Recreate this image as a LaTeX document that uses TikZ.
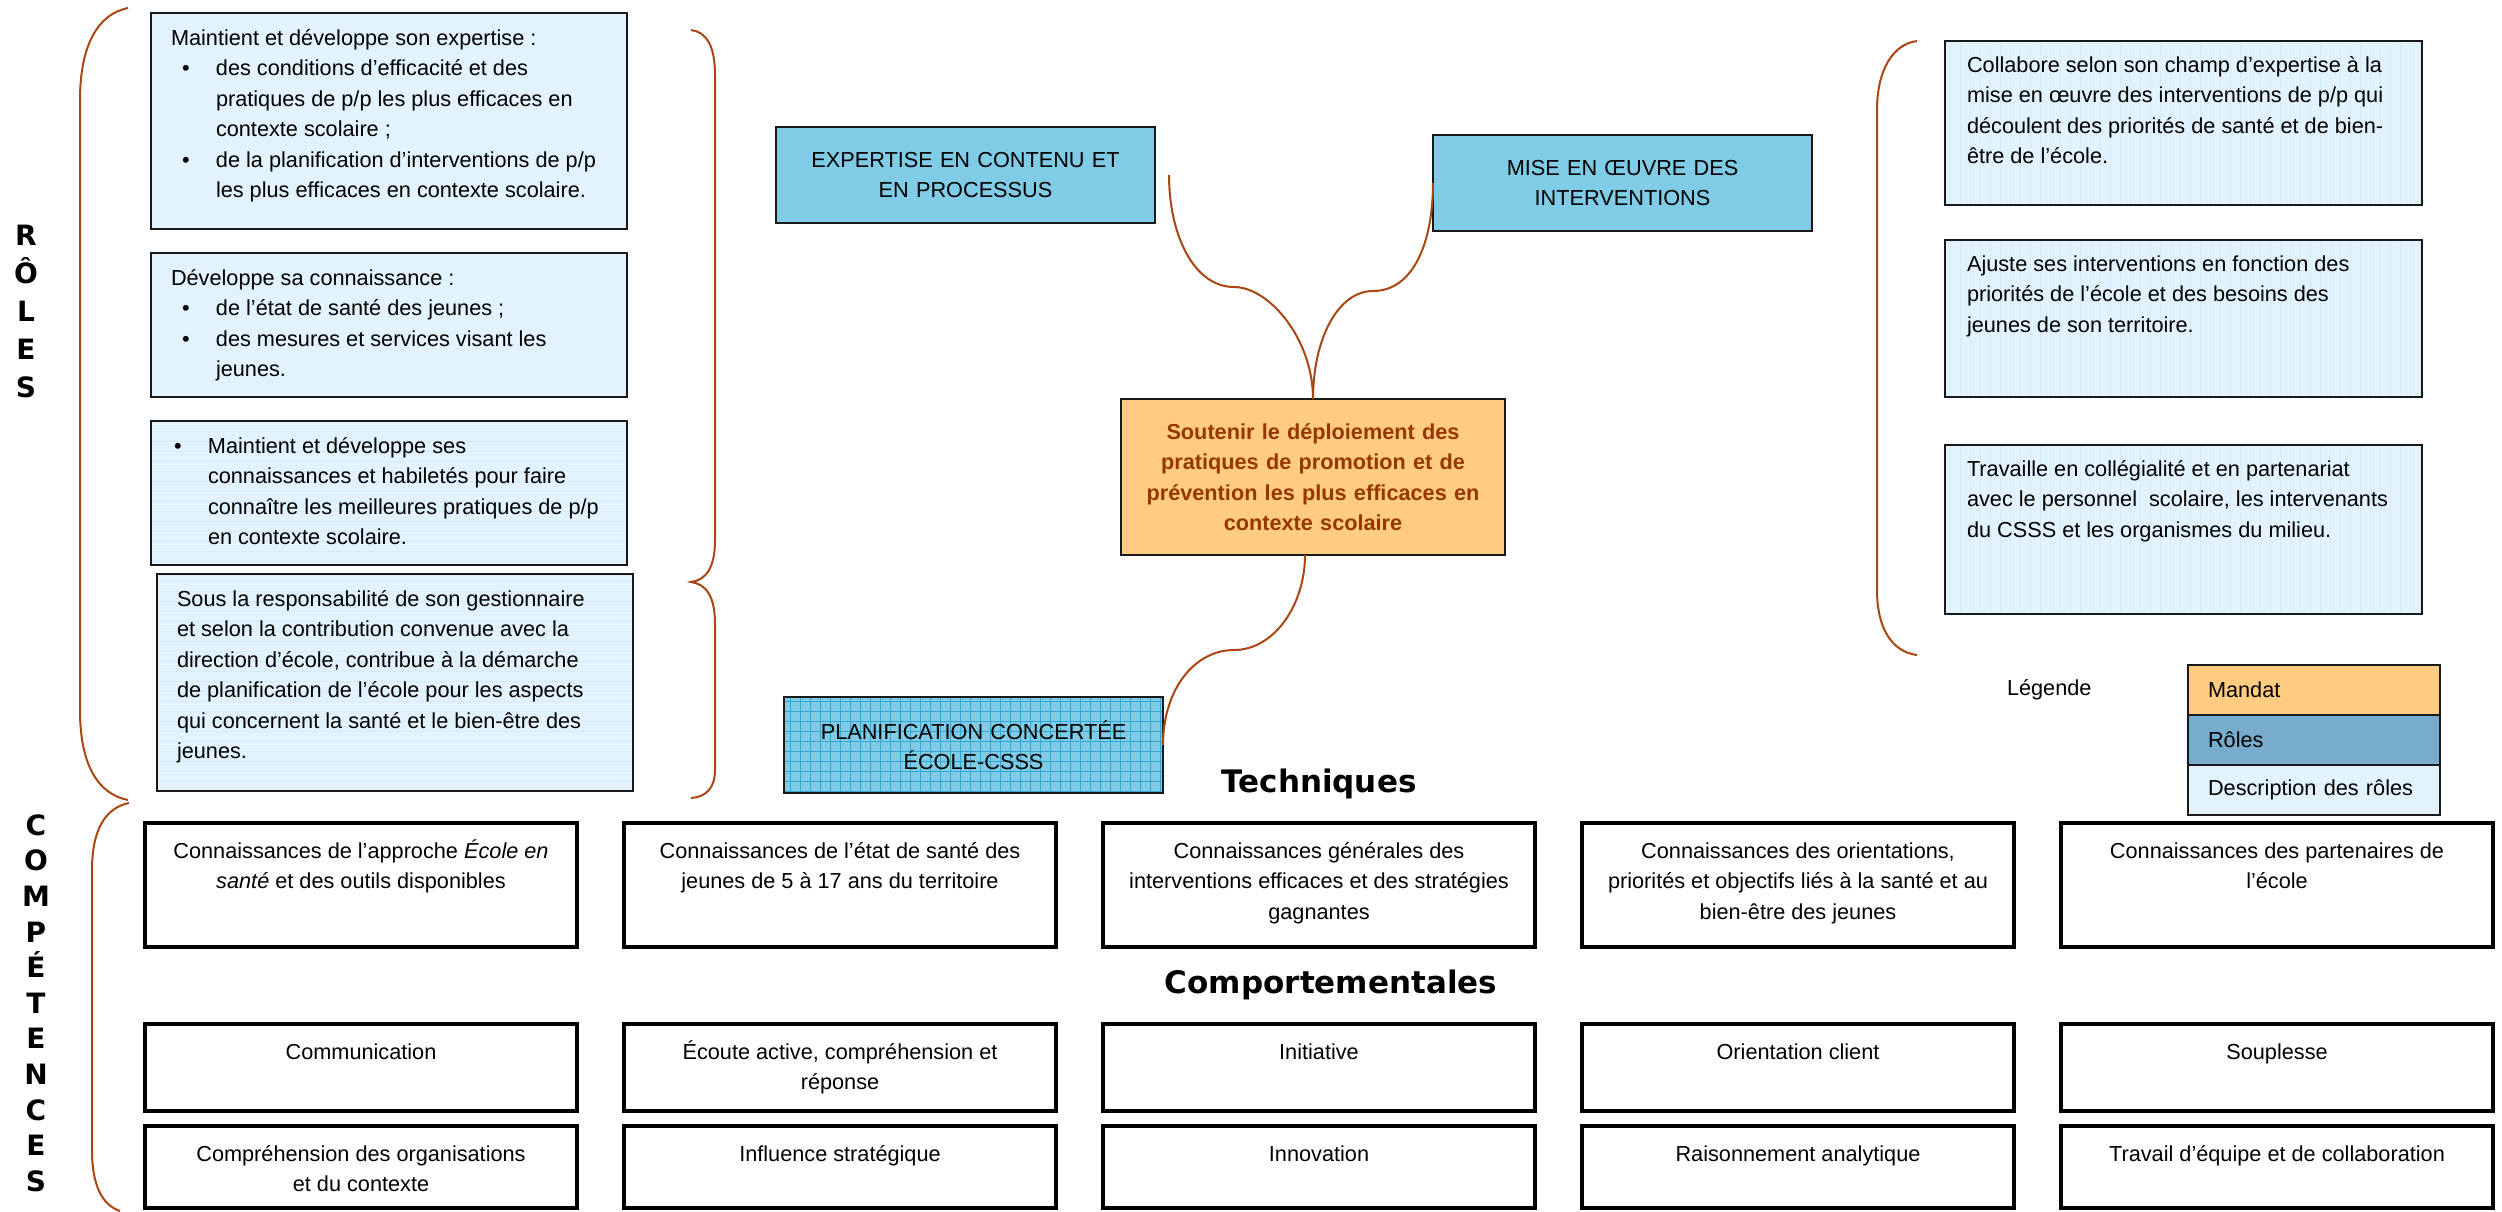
\documentclass[tikz,border=0pt]{standalone}
\usepackage{fontspec}
\setmainfont{Liberation Sans}
\newfontfamily\titlefont{DejaVu Sans}
\usepackage{xcolor}
\usetikzlibrary{positioning,calc,patterns.meta}
\definecolor{descblue}{RGB}{226,243,253}
\definecolor{descline}{RGB}{212,235,250}
\definecolor{roleblue}{RGB}{128,203,230}
\definecolor{gridblue}{RGB}{52,168,212}
\definecolor{legendblue}{RGB}{120,172,204}
\definecolor{mandatorange}{RGB}{255,204,130}
\definecolor{mandattext}{RGB}{150,55,0}
\definecolor{braceorange}{RGB}{170,70,20}
\definecolor{boxborder}{RGB}{25,25,25}
% Text sizes and blocks
\newcommand{\corps}{\fontsize{21.7pt}{30.5pt}\selectfont}
\newcommand{\puce}[1][11pt]{\par\noindent\hangindent=\dimexpr34pt+#1\relax\hangafter=1
  \hbox to \dimexpr34pt+#1\relax{\hspace{#1}\textbullet\hfil}}
\newcommand{\blocG}[3]{\parbox[t][#1][t]{#2}{\raggedright\everypar{\strut}#3}}
\newcommand{\blocC}[3]{\parbox[t][#1][t]{#2}{\centering\everypar{\strut}#3}}
\tikzset{
    % Define standard node styles
    descbox/.style={
        rectangle, draw=boxborder, line width=2pt, outer sep=0pt,
        inner xsep=20pt, inner ysep=11pt, anchor=north west, font=\corps
    },
    plainfill/.style={fill=descblue},
    hlines/.style={
        preaction={fill=descblue},
        pattern={Lines[angle=0,distance=10pt,line width=0.8pt]}, pattern color=descline
    },
    vlines/.style={
        preaction={fill=descblue},
        pattern={Lines[angle=90,distance=10pt,line width=0.8pt]}, pattern color=descline
    },
    rolebox/.style={
        rectangle, draw=boxborder, line width=2.5pt, fill=roleblue, outer sep=0pt,
        minimum width=379pt, minimum height=96pt, text width=360pt,
        align=center, anchor=north west, font=\corps
    },
    gridfill/.style={
        preaction={fill=roleblue},
        pattern={Hatch[distance=10pt,line width=0.8pt]}, pattern color=gridblue
    },
    mandatbox/.style={
        rectangle, draw=boxborder, line width=2.5pt, fill=mandatorange, outer sep=0pt,
        text=mandattext, font=\corps\bfseries,
        minimum width=384pt, minimum height=156pt, text width=370pt,
        align=center, anchor=north west
    },
    compbox/.style={
        rectangle, draw=black, line width=4.5pt, fill=white, outer sep=0pt,
        inner xsep=14pt, inner ysep=14pt, font=\corps
    },
    legendbox/.style={
        rectangle, draw=boxborder, line width=2pt, outer sep=0pt,
        minimum width=252pt, minimum height=50pt, text width=212pt,
        align=left, font=\corps
    },
    accolade/.style={draw=braceorange, line width=2pt},
    sidetitle/.style={font=\titlefont\bfseries\fontsize{28pt}{#1}\selectfont, align=center},
    sectiontitle/.style={font=\titlefont\bfseries\fontsize{31pt}{36pt}\selectfont}
}
\begin{document}
\begin{tikzpicture}[x=1pt,y=-1pt]
\useasboundingbox[fill=white] (0,0) rectangle (2502,1211);

% Side titles
\node[sidetitle=38pt] (roles_title) at (26,311) {R\\Ô\\L\\E\\S};
\node[sidetitle=35.6pt] (competences_title) at (36,1003) {C\\O\\M\\P\\É\\T\\E\\N\\C\\E\\S};

% Role descriptions, left
\node[descbox, plainfill] (desc_expertise1) at (151,13) {\blocG{194pt}{436pt}{Maintient et développe son expertise~:
\puce des conditions d’efficacité et des\newline pratiques de p/p les plus efficaces en\newline contexte scolaire ;
\puce de la planification d’interventions de p/p\newline les plus efficaces en contexte scolaire.}};
\node[descbox, plainfill] (desc_expertise2) at (151,253) {\blocG{122pt}{436pt}{Développe sa connaissance~:
\puce de l’état de santé des jeunes ;
\puce des mesures et services visant les\newline jeunes.}};
\node[descbox, hlines] (desc_expertise3) at (151,421) {\blocG{122pt}{436pt}{\puce[3pt]Maintient et développe ses\newline connaissances et habiletés pour faire\newline connaître les meilleures pratiques de p/p\newline en contexte scolaire.}};
\node[descbox, hlines] (desc_planification) at (157,574) {\blocG{195pt}{436pt}{Sous la responsabilité de son gestionnaire\\
et selon la contribution convenue avec la\\
direction d’école, contribue à la démarche\\
de planification de l’école pour les aspects\\
qui concernent la santé et le bien-être des\\
jeunes.}};

% Role descriptions, right
\node[descbox, vlines, inner xsep=22pt, inner ysep=10pt] (desc_mise1) at (1945,41) {\blocG{144pt}{433pt}{Collabore selon son champ d’expertise à la\\
mise en œuvre des interventions de p/p qui\\
découlent des priorités de santé et de bien-\\
être de l’école.}};
\node[descbox, vlines, inner xsep=22pt, inner ysep=10pt] (desc_mise2) at (1945,240) {\blocG{137pt}{433pt}{Ajuste ses interventions en fonction des\\
priorités de l’école et des besoins des\\
jeunes de son territoire.}};
\node[descbox, vlines, inner xsep=22pt, inner ysep=10pt] (desc_mise3) at (1945,445) {\blocG{149pt}{433pt}{Travaille en collégialité et en partenariat\\
avec le personnel\ \ scolaire, les intervenants\\
du CSSS et les organismes du milieu.}};

% Roles and mandate
\node[rolebox] (role_expertise) at (776,127) {EXPERTISE EN CONTENU ET\\EN PROCESSUS};
\node[rolebox] (role_miseenoeuvre) at (1433,135) {MISE EN ŒUVRE DES\\INTERVENTIONS};
\node[mandatbox] (mandat_box) at (1121,399) {Soutenir le déploiement des\\pratiques de promotion et de\\prévention les plus efficaces en\\contexte scolaire};
\node[rolebox, gridfill] (role_planification) at (784,697) {PLANIFICATION CONCERTÉE\\ÉCOLE-CSSS};

% Legend
\node[legendbox, fill=mandatorange, anchor=north west] (leg_mandat) at (2188,665) {Mandat};
\node[legendbox, fill=legendblue, below=0pt of leg_mandat] (leg_roles) {Rôles};
\node[legendbox, fill=descblue, below=0pt of leg_roles] (leg_desc) {Description des rôles};
\node[font=\corps, left=93pt of leg_mandat] (leg_title) {Légende};

% Technical competences
\node[sectiontitle] (techniques_title) at (1319,784) {Techniques};
\node[compbox, anchor=north west] (tech_1) at (145,823) {\blocC{96pt}{404pt}{Connaissances de l’approche \textit{École en}\\ \textit{santé} et des outils disponibles}};
\node[compbox, right=47pt of tech_1] (tech_2) {\blocC{96pt}{404pt}{Connaissances de l’état de santé des\\ jeunes de 5 à 17 ans du territoire}};
\node[compbox, right=47pt of tech_2] (tech_3) {\blocC{96pt}{404pt}{Connaissances générales des\\ interventions efficaces et des stratégies\\ gagnantes}};
\node[compbox, right=47pt of tech_3] (tech_4) {\blocC{96pt}{404pt}{Connaissances des orientations,\\ priorités et objectifs liés à la santé et au\\ bien-être des jeunes}};
\node[compbox, right=47pt of tech_4] (tech_5) {\blocC{96pt}{404pt}{Connaissances des partenaires de\\ l’école}};

% Behavioural competences
\node[sectiontitle] (comport_title) at (1331,985) {Comportementales};
\node[compbox, anchor=north west] (comp_1) at (145,1024) {\blocC{59pt}{404pt}{Communication}};
\node[compbox, right=47pt of comp_1] (comp_2) {\blocC{59pt}{404pt}{Écoute active, compréhension et\\ réponse}};
\node[compbox, right=47pt of comp_2] (comp_3) {\blocC{59pt}{404pt}{Initiative}};
\node[compbox, right=47pt of comp_3] (comp_4) {\blocC{59pt}{404pt}{Orientation client}};
\node[compbox, right=47pt of comp_4] (comp_5) {\blocC{59pt}{404pt}{Souplesse}};
\node[compbox, below=15pt of comp_1] (comp_6) {\blocC{54pt}{404pt}{Compréhension des organisations\\ et du contexte}};
\node[compbox, right=47pt of comp_6] (comp_7) {\blocC{54pt}{404pt}{Influence stratégique}};
\node[compbox, right=47pt of comp_7] (comp_8) {\blocC{54pt}{404pt}{Innovation}};
\node[compbox, right=47pt of comp_8] (comp_9) {\blocC{54pt}{404pt}{Raisonnement analytique}};
\node[compbox, right=47pt of comp_9] (comp_10) {\blocC{54pt}{404pt}{Travail d’équipe et de collaboration}};

% Braces
\draw[accolade] (128,8) .. controls (98,14) and (80,45) .. (80,100) -- (80,710) .. controls (80,765) and (98,794) .. (128,800);
\draw[accolade] (691,30) .. controls (706,32) and (715,45) .. (715,75) -- (715,540) .. controls (715,568) and (706,580) .. (691,582) .. controls (706,584) and (715,596) .. (715,624) -- (715,770) .. controls (715,788) and (706,797) .. (691,798);
\draw[accolade] (129,803) .. controls (105,808) and (92,830) .. (92,870) -- (92,1150) .. controls (92,1185) and (102,1205) .. (120,1211);
\draw[accolade] (1917,41) .. controls (1893,44) and (1877,70) .. (1877,110) -- (1877,590) .. controls (1877,630) and (1893,652) .. (1917,655);

% Curves joining the roles to the mandate
\draw[accolade] ([xshift=14pt]role_expertise.east) .. controls +(0,60) and +(-40,0) .. ($(role_expertise.east)!0.5!(mandat_box.north)$) .. controls +(35,0) and +(0,-60) .. (mandat_box.north);
\draw[accolade] (role_miseenoeuvre.west) .. controls +(0,60) and +(40,0) .. ($(role_miseenoeuvre.west)!0.5!(mandat_box.north)$) .. controls +(-35,0) and +(0,-60) .. (mandat_box.north);
\draw[accolade] ([xshift=-8pt]mandat_box.south) .. controls +(0,50) and +(40,0) .. ($([xshift=-8pt]mandat_box.south)!0.5!(role_planification.east)$) .. controls +(-40,0) and +(0,-55) .. (role_planification.east);

\end{tikzpicture}
\end{document}
